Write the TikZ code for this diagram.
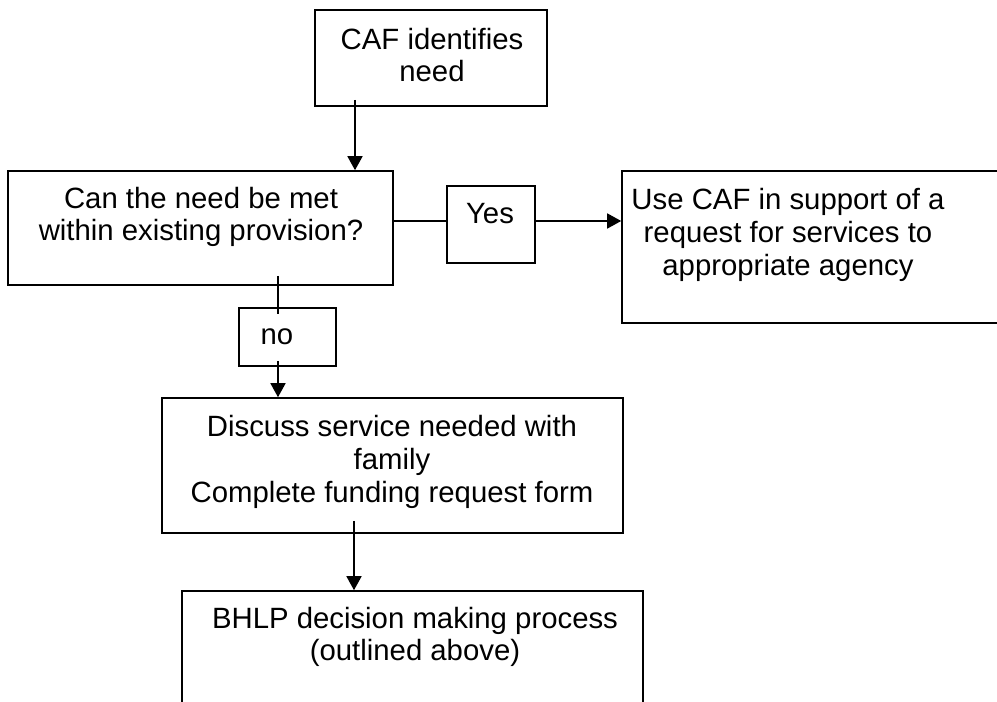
\documentclass[tikz,border=0pt]{standalone}
\usepackage{fontspec}
\setmainfont{Liberation Sans}
\usetikzlibrary{arrows.meta}

\tikzset{
  box/.style={draw=black, line width=1.2pt, rectangle, inner sep=0pt},
  txt/.style={align=center, font=\fontsize{22}{24.5}\selectfont, inner sep=0pt},
  link/.style={line width=1.2pt},
  arr/.style={line width=1.2pt, -{Triangle[length=10.5pt,width=11.25pt]}}
}

\begin{document}
\begin{tikzpicture}[x=0.75pt, y=-0.75pt]
				\useasboundingbox (0,0) rectangle (997,702);
				% Boxes
				\node[box, minimum width=174pt, minimum height=72pt] (need) at (431,58) {};
				\node[txt] (needtxt) at (432,55) {CAF identifies\\need};
				\node[box, minimum width=288.75pt, minimum height=85.5pt] (meet) at (200.5,228) {};
				\node[txt] (meettxt) at (201,217) {Can the need be met\\within existing provision?};
				\node[box, minimum width=66pt, minimum height=57.75pt] (yes) at (491,224.5) {};
				\node[txt] (yestxt) at (490,214) {Yes};
				\node[box, minimum width=291pt, minimum height=114pt] (use) at (816,247) {};
				\node[txt] (usetxt) at (788,235) {Use CAF in support of a\\request for services to\\appropriate agency};
				\node[box, minimum width=72.75pt, minimum height=43.5pt] (no) at (287.5,337) {};
				\node[txt] (notxt) at (277,337) {no};
				\node[box, minimum width=345.75pt, minimum height=101.25pt] (discuss) at (392.5,465.5) {};
				\node[txt] (discusstxt) at (392,462) {Discuss service needed with\\family\\Complete funding request form};
				\node[box, minimum width=345.75pt, minimum height=96.75pt] (bhlp) at (412.5,655.5) {};
				\node[txt] (bhlptxt) at (415,637) {BHLP decision making process\\(outlined above)};
				% Connectors
				\coordinate (ax) at (355,0);
				\coordinate (ylev) at (0,221);
				\coordinate (nx) at (278,0);
				\coordinate (bx) at (354,0);
				\draw[arr] ([yshift=5.25pt]need.south -| ax) -- (ax |- meet.north);
				\draw[link] (meet.east |- ylev) -- (yes.west |- ylev);
				\draw[arr] (yes.east |- ylev) -- (use.west |- ylev);
				\draw[link] ([yshift=7.5pt]meet.south -| nx) -- ([yshift=-5.25pt]no.north -| nx);
				\draw[arr] ([yshift=4.5pt]no.south -| nx) -- (nx |- discuss.north);
				\draw[arr] ([yshift=9.75pt]discuss.south -| bx) -- (bx |- bhlp.north);
\end{tikzpicture}
\end{document}
